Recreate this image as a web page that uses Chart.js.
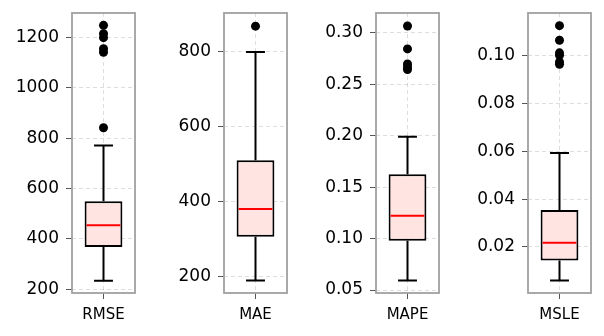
<!DOCTYPE html>
<html>
<head>
<meta charset="utf-8">
<script src="https://cdn.jsdelivr.net/npm/chart.js@4.4.1/dist/chart.umd.min.js"></script>
<style>
  html, body { margin: 0; padding: 0; background: #fff; }
  #wrap { position: relative; width: 604px; height: 336px; overflow: hidden; }
  canvas { position: absolute; top: 0; }
</style>
</head>
<body>
<div id="wrap"></div>
<script>
// box plot stats per metric
const metrics = ["RMSE", "MAE", "MAPE", "MSLE"]
const q1 = [368, 307, 0.098, 0.0143]
const medians = [454, 381, 0.1223, 0.0218]
const q3 = [550, 511, 0.1626, 0.0355]
const whiskerLow = [234, 190, 0.0593, 0.0059]
const whiskerHigh = [771, 799, 0.199, 0.0593]
const outliers = [
  [842, 1142, 1156, 1200, 1216, 1249],
  [868],
  [0.2645, 0.267, 0.2698, 0.2845, 0.3068],
  [0.0965, 0.0975, 0.1003, 0.1013, 0.1066, 0.1127],
]
const yTicks = [
  [200, 400, 600, 800, 1000, 1200],
  [200, 400, 600, 800],
  [0.05, 0.1, 0.15, 0.2, 0.25, 0.3],
  [0.02, 0.04, 0.06, 0.08, 0.1],
]
const yDecimals = [0, 0, 2, 2]
const yMin = [185, 157, 0.0471, 0.0007]
const yMax = [1298, 903, 0.3194, 0.118]

const FONT = "'DejaVu Sans', sans-serif"
const GRID = "rgba(0,0,0,0.13)"

// whiskers, caps, median and the grey frame
const boxExtras = {
  id: "boxExtras",
  afterDatasetsDraw(chart, args, opts) {
    const ctx = chart.ctx
    const y = chart.scales.y
    const bar = chart.getDatasetMeta(0).data[0]
    const i = opts.index
    const cx = bar.x
    const half = bar.width / 2
    const cap = bar.width / 4
    ctx.save()
    ctx.lineWidth = 2
    ctx.strokeStyle = "#000"
    ctx.beginPath()
    ctx.moveTo(cx, y.getPixelForValue(q3[i]))
    ctx.lineTo(cx, y.getPixelForValue(whiskerHigh[i]))
    ctx.moveTo(cx, y.getPixelForValue(q1[i]))
    ctx.lineTo(cx, y.getPixelForValue(whiskerLow[i]))
    ctx.moveTo(cx - cap, y.getPixelForValue(whiskerHigh[i]))
    ctx.lineTo(cx + cap, y.getPixelForValue(whiskerHigh[i]))
    ctx.moveTo(cx - cap, y.getPixelForValue(whiskerLow[i]))
    ctx.lineTo(cx + cap, y.getPixelForValue(whiskerLow[i]))
    ctx.stroke()
    ctx.strokeStyle = "#ff0000"
    ctx.beginPath()
    const my = y.getPixelForValue(medians[i])
    ctx.moveTo(cx - half + 2, my)
    ctx.lineTo(cx + half - 2, my)
    ctx.stroke()
    const a = chart.chartArea
    ctx.strokeStyle = "#a0a0a0"
    ctx.lineWidth = 1.8
    ctx.strokeRect(a.left, a.top, a.right - a.left, a.bottom - a.top)
    ctx.restore()
  },
}

const wrap = document.getElementById("wrap")

metrics.forEach((name, i) => {
  const canvas = document.createElement("canvas")
  canvas.width = 150
  canvas.height = 336
  canvas.style.left = 152 * i + "px"
  wrap.appendChild(canvas)

  new Chart(canvas, {
    type: "bar",
    data: {
      labels: [name],
      datasets: [
        {
          data: [[q1[i], q3[i]]],
          backgroundColor: "#ffe4e1",
          borderColor: "#000",
          borderWidth: 2,
          borderSkipped: false,
          barPercentage: 0.6,
          categoryPercentage: 1,
        },
        {
          type: "line",
          showLine: false,
          data: outliers[i].map((v) => ({ x: name, y: v })),
          pointRadius: 4.5,
          pointBackgroundColor: "#000",
          pointBorderColor: "#000",
          pointBorderWidth: 0,
        },
      ],
    },
    options: {
      responsive: false,
      animation: false,
      devicePixelRatio: 1,
      layout: { padding: { top: 13, right: 15, left: 0, bottom: 0 } },
      plugins: {
        legend: { display: false },
        tooltip: { enabled: false },
        boxExtras: { index: i },
      },
      scales: {
        x: {
          offset: true,
          grid: {
            offset: false,
            color: GRID,
            tickColor: "#555",
            tickLength: 6,
          },
          border: { display: false, dash: [4, 3] },
          ticks: {
            color: "#000",
            padding: 7,
            font: { family: FONT, size: 15 },
          },
          afterFit: (s) => {
            s.height = 43
            s.paddingLeft = 0
            s.paddingRight = 0
          },
        },
        y: {
          min: yMin[i],
          max: yMax[i],
          grid: {
            color: GRID,
            tickColor: "#555",
            tickLength: 6,
          },
          border: { display: false, dash: [4, 3] },
          ticks: {
            color: "#000",
            padding: 7,
            font: { family: FONT, size: 17 },
            callback: (v) => Number(v).toFixed(yDecimals[i]),
          },
          afterBuildTicks: (s) => {
            s.ticks = yTicks[i].map((v) => ({ value: v }))
          },
          afterFit: (s) => {
            s.width = 72
            s.paddingTop = 0
            s.paddingBottom = 0
          },
        },
      },
    },
    plugins: [boxExtras],
  })
})
</script>
</body>
</html>
